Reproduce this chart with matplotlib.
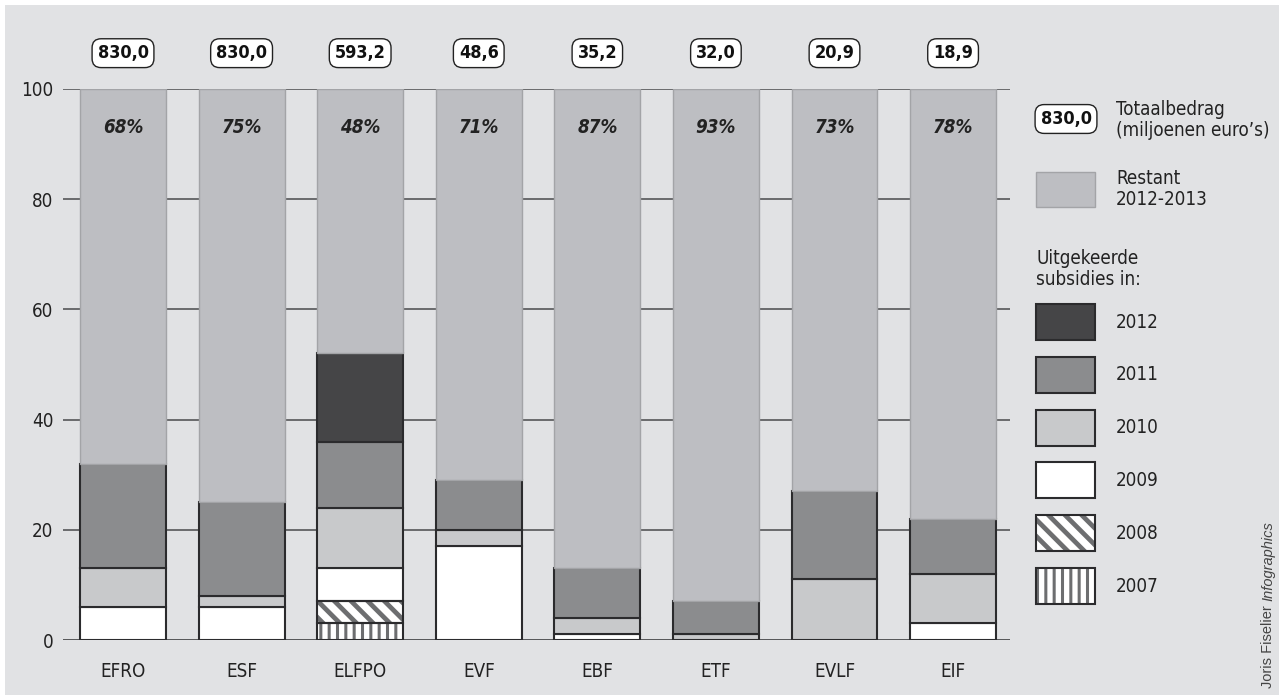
import numpy as np
import matplotlib
matplotlib.use("Agg")
import matplotlib.pyplot as plt
from matplotlib.patches import Rectangle

# data
categories = ["EFRO", "ESF", "ELFPO", "EVF", "EBF", "ETF", "EVLF", "EIF"]
totals = ["830,0", "830,0", "593,2", "48,6", "35,2", "32,0", "20,9", "18,9"]
y2007 = [0, 0, 3, 0, 0, 0, 0, 0]
y2008 = [0, 0, 4, 0, 0, 0, 0, 0]
y2009 = [6, 6, 6, 17, 1, 0, 0, 3]
y2010 = [7, 2, 11, 3, 3, 1, 11, 9]
y2011 = [19, 17, 12, 9, 9, 6, 16, 10]
y2012 = [0, 0, 16, 0, 0, 0, 0, 0]
restant = [68, 75, 48, 71, 87, 93, 73, 78]
yticks = [0, 20, 40, 60, 80, 100]

# narrow look: condensed variant is used if installed
plt.rcParams["font.family"] = ["DejaVu Sans"]
plt.rcParams["font.stretch"] = "condensed"

BG = "#e1e2e4"
DARK = "#2b2b2d"
C_REST = "#bdbec2"
C_2012 = "#454547"
C_2011 = "#8b8c8e"
C_2010 = "#c8c9cb"
C_2009 = "#ffffff"
C_HATCH = "#6d6e70"

W, H = 1279, 695
fig = plt.figure(figsize=(W / 100, H / 100), dpi=100, facecolor="white")

# overlay in pixel coords for background + legend
bg = fig.add_axes([0, 0, 1, 1], zorder=0)
bg.set_xlim(0, W)
bg.set_ylim(H, 0)
bg.axis("off")
bg.add_patch(Rectangle((5, 5), W - 5, H - 5, facecolor=BG, edgecolor="none"))


def px_rect(x0, x1, y_top, y_bot):
    return [x0 / W, 1 - y_bot / H, (x1 - x0) / W, (y_bot - y_top) / H]


ax = fig.add_axes(px_rect(63, 1010, 89, 640), zorder=1)
ax.set_facecolor("none")
ax.set_xlim(-0.506, 7.48)
ax.set_ylim(0, 100)
for s in ax.spines.values():
    s.set_visible(False)

for t in yticks:
    ax.axhline(t, color="#555658", lw=1.4 if t == 0 else 1.2, zorder=1)

x = np.arange(len(categories))
width = 0.725
HATCH_08 = ("\\\\", 3.4)
HATCH_07 = ("||", 2.2)


def hatched(xs, vals, bottoms, hatch, hlw):
    for xi, v, b in zip(xs, vals, bottoms):
        if v <= 0:
            continue
        with plt.rc_context({"hatch.linewidth": hlw, "hatch.color": C_HATCH}):
            ax.bar(xi, v, width, bottom=b, color="white", edgecolor=C_HATCH,
                   hatch=hatch, linewidth=0, zorder=2)
        ax.bar(xi, v, width, bottom=b, fill=False, edgecolor=DARK, linewidth=1.5, zorder=3)


def solid(xs, vals, bottoms, color, ec=DARK, lw=1.5):
    for xi, v, b in zip(xs, vals, bottoms):
        if v <= 0:
            continue
        ax.bar(xi, v, width, bottom=b, color=color, edgecolor=ec, linewidth=lw, zorder=2)


bottom = np.zeros(len(categories))
hatched(x, y2007, bottom, *HATCH_07)
bottom += y2007
hatched(x, y2008, bottom, *HATCH_08)
bottom += y2008
solid(x, y2009, bottom, C_2009)
bottom += y2009
solid(x, y2010, bottom, C_2010)
bottom += y2010
solid(x, y2011, bottom, C_2011)
bottom += y2011
solid(x, y2012, bottom, C_2012)
bottom += y2012
solid(x, restant, bottom, C_REST, ec="#a3a4a7", lw=1.0)

box = dict(boxstyle="round,pad=0.3,rounding_size=0.5", fc="white", ec="#222222", lw=1)
for xi, pct, tot in zip(x, restant, totals):
    ax.text(xi, 93, f"{pct}%", ha="center", va="center", fontsize=13.5,
            fontweight="bold", fontstyle="italic", color="#222222", zorder=4)
    ax.text(xi, 106.5, tot, ha="center", va="center", fontsize=13,
            fontweight="bold", color="#111111", clip_on=False, zorder=4, bbox=box)

ax.set_yticks(yticks)
ax.set_yticklabels([str(t) for t in yticks])
ax.set_xticks(x)
ax.set_xticklabels(categories)
ax.tick_params(axis="y", length=0, pad=7, labelsize=13.5, labelcolor="#222222")
ax.tick_params(axis="x", length=0, pad=16, labelsize=13.5, labelcolor="#222222")

# legend (pixel coords)
TX = 1116
bg.text(1066, 119, "830,0", ha="center", va="center", fontsize=13,
        fontweight="bold", color="#111111", bbox=box)
bg.text(TX, 120, "Totaalbedrag\n(miljoenen euro’s)", ha="left", va="center",
        fontsize=13.5, color="#222222", linespacing=1.1)

bg.add_patch(Rectangle((1036, 172), 59, 35, facecolor=C_REST, edgecolor="#a3a4a7", lw=1))
bg.text(TX, 189, "Restant\n2012-2013", ha="left", va="center",
        fontsize=13.5, color="#222222", linespacing=1.1)

bg.text(1036, 269, "Uitgekeerde\nsubsidies in:", ha="left", va="center",
        fontsize=13.5, color="#222222", linespacing=1.1)

leg_labels = ["2012", "2011", "2010", "2009", "2008", "2007"]
leg_colors = [C_2012, C_2011, C_2010, C_2009, "white", "white"]
leg_hatch = [None, None, None, None, HATCH_08, HATCH_07]
for i, (lab, col, hat) in enumerate(zip(leg_labels, leg_colors, leg_hatch)):
    top = 304 + i * 52.8
    if hat:
        with plt.rc_context({"hatch.linewidth": hat[1], "hatch.color": C_HATCH}):
            bg.add_patch(Rectangle((1036, top), 59, 36, facecolor="white",
                                   edgecolor=C_HATCH, hatch=hat[0], lw=0))
        bg.add_patch(Rectangle((1036, top), 59, 36, fill=False, edgecolor=DARK, lw=1.5))
    else:
        bg.add_patch(Rectangle((1036, top), 59, 36, facecolor=col, edgecolor=DARK, lw=1.5))
    bg.text(TX, top + 18, lab, ha="left", va="center", fontsize=13.5, color="#222222")

# credit, two pieces stacked bottom to top
credit_font = dict(fontsize=10.5, color="#444444", stretch="normal",
                   family=["Liberation Sans", "DejaVu Sans"])
t1 = bg.text(1268, 688, "Joris Fiselier", rotation=90, ha="center", va="bottom",
             **credit_font)
fig.canvas.draw()
ext = t1.get_window_extent()
y_next = H - ext.y1 - 4
bg.text(1268, y_next, "Infographics", rotation=90, ha="center", va="bottom",
        fontstyle="italic", **credit_font)

fig.savefig("out.png", dpi=100, facecolor=fig.get_facecolor())
